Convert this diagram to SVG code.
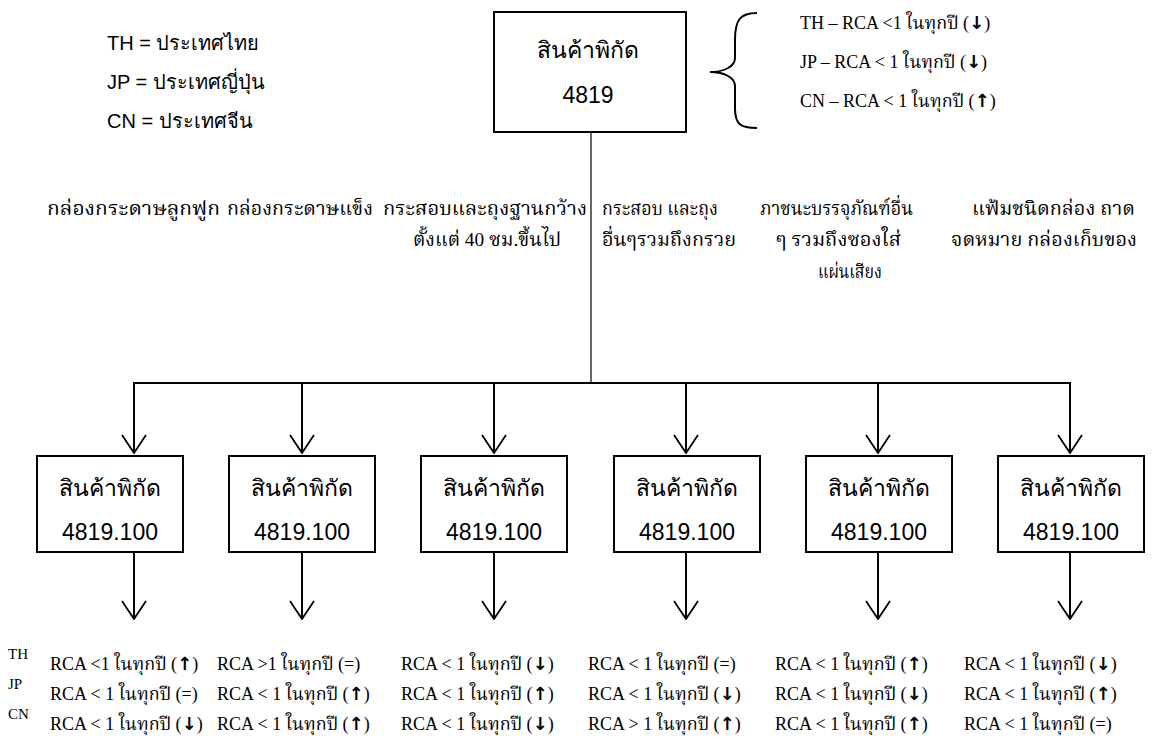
<svg xmlns="http://www.w3.org/2000/svg" width="1161" height="749" viewBox="0 0 1161 749">
<defs>
<style>
.bg{fill:#fff}
.box{fill:#fff;stroke:#000;stroke-width:2}
.sans{font-family:"Liberation Sans","Noto Sans","DejaVu Sans",sans-serif;fill:#000}
.serif{font-family:"Liberation Serif","Kinnari","Norasi","Noto Serif Thai","DejaVu Serif",serif;fill:#000}
.bt{font-size:23px;text-anchor:middle}
.lg{font-size:20px}
.cat{font-size:19px}
.rca{font-size:18px}
.sup{font-size:15px}
.ar{font-family:"DejaVu Sans",sans-serif;font-weight:bold}
.ln{fill:none;stroke:#000;stroke-width:2}
.thin{fill:none;stroke:#000;stroke-width:1.2}
</style>
<marker id="ah" viewBox="0 0 20 26" refX="19" refY="13" markerWidth="20" markerHeight="26" markerUnits="userSpaceOnUse" orient="auto">
<path d="M1,1 L19,13 L1,25" fill="none" stroke="#000" stroke-width="1.8"/>
</marker>
</defs>
<rect class="bg" x="0" y="0" width="1161" height="749"/>

<g id="legend">
<text class="sans lg" x="107" y="50">TH = ประเทศไทย</text>
<text class="sans lg" x="107" y="89">JP = ประเทศญี่ปุ่น</text>
<text class="sans lg" x="107" y="128">CN = ประเทศจีน</text>
</g>

<g id="top-node">
<rect class="box" x="494" y="12" width="192" height="120"/>
<text class="sans bt" x="588" y="58">สินค้าพิกัด</text>
<text class="sans bt" x="588" y="103">4819</text>
</g>

<g id="top-note">
<path class="ln" d="M757,13 C740,13 735,20 735,40 L735,58 C735,66 725,72 710,72 C725,72 735,78 735,86 L735,108 C735,124 740,128 757,128"/>
<text class="serif rca" x="800" y="29">TH – RCA &lt;1 ในทุกปี (<tspan class="ar">↓</tspan>)</text>
<text class="serif rca" x="800" y="68">JP – RCA &lt; 1 ในทุกปี (<tspan class="ar">↓</tspan>)</text>
<text class="serif rca" x="800" y="107">CN – RCA &lt; 1 ในทุกปี (<tspan class="ar">↑</tspan>)</text>
</g>

<g id="categories">
<text class="serif cat" x="47" y="215" textLength="173" lengthAdjust="spacingAndGlyphs">กล่องกระดาษลูกฟูก</text>
<text class="serif cat" x="227" y="215" textLength="146" lengthAdjust="spacingAndGlyphs">กล่องกระดาษแข็ง</text>
<text class="serif cat" x="383" y="215" textLength="204" lengthAdjust="spacingAndGlyphs">กระสอบและถุงฐานกว้าง</text>
<text class="serif cat" x="413" y="246" textLength="148" lengthAdjust="spacingAndGlyphs">ตั้งแต่ 40 ซม.ขึ้นไป</text>
<text class="serif cat" x="602" y="215" textLength="116" lengthAdjust="spacingAndGlyphs">กระสอบ และถุง</text>
<text class="serif cat" x="602" y="246" textLength="134" lengthAdjust="spacingAndGlyphs">อื่นๆรวมถึงกรวย</text>
<text class="serif cat" x="760" y="215" textLength="153" lengthAdjust="spacingAndGlyphs">ภาชนะบรรจุภัณฑ์อื่น</text>
<text class="serif cat" x="776" y="246" textLength="125" lengthAdjust="spacingAndGlyphs">ๆ รวมถึงซองใส่</text>
<text class="serif cat" x="818" y="278" textLength="64" lengthAdjust="spacingAndGlyphs">แผ่นเสียง</text>
<text class="serif cat" x="972" y="215" textLength="163" lengthAdjust="spacingAndGlyphs">แฟ้มชนิดกล่อง ถาด</text>
<text class="serif cat" x="951" y="246" textLength="186" lengthAdjust="spacingAndGlyphs">จดหมาย กล่องเก็บของ</text>
</g>

<g id="connectors">
<line class="thin" x1="591" y1="132" x2="591" y2="383"/>
<line class="ln" x1="133" y1="383" x2="1071" y2="383"/>
<line class="ln" x1="134" y1="383" x2="134" y2="453" marker-end="url(#ah)"/>
<line class="ln" x1="302" y1="383" x2="302" y2="453" marker-end="url(#ah)"/>
<line class="ln" x1="494" y1="383" x2="494" y2="453" marker-end="url(#ah)"/>
<line class="ln" x1="686" y1="383" x2="686" y2="453" marker-end="url(#ah)"/>
<line class="ln" x1="878" y1="383" x2="878" y2="453" marker-end="url(#ah)"/>
<line class="ln" x1="1070" y1="383" x2="1070" y2="453" marker-end="url(#ah)"/>
<line class="ln" x1="134" y1="552" x2="134" y2="619" marker-end="url(#ah)"/>
<line class="ln" x1="302" y1="552" x2="302" y2="619" marker-end="url(#ah)"/>
<line class="ln" x1="494" y1="552" x2="494" y2="619" marker-end="url(#ah)"/>
<line class="ln" x1="686" y1="552" x2="686" y2="619" marker-end="url(#ah)"/>
<line class="ln" x1="878" y1="552" x2="878" y2="619" marker-end="url(#ah)"/>
<line class="ln" x1="1070" y1="552" x2="1070" y2="619" marker-end="url(#ah)"/>
</g>

<g id="node-1">
<rect class="box" x="37" y="456" width="146" height="96"/>
<text class="sans bt" x="110" y="496">สินค้าพิกัด</text>
<text class="sans bt" x="110" y="540">4819.100</text>
</g>
<g id="node-2">
<rect class="box" x="229" y="456" width="146" height="96"/>
<text class="sans bt" x="302" y="496">สินค้าพิกัด</text>
<text class="sans bt" x="302" y="540">4819.100</text>
</g>
<g id="node-3">
<rect class="box" x="421" y="456" width="146" height="96"/>
<text class="sans bt" x="494" y="496">สินค้าพิกัด</text>
<text class="sans bt" x="494" y="540">4819.100</text>
</g>
<g id="node-4">
<rect class="box" x="614" y="456" width="146" height="96"/>
<text class="sans bt" x="687" y="496">สินค้าพิกัด</text>
<text class="sans bt" x="687" y="540">4819.100</text>
</g>
<g id="node-5">
<rect class="box" x="806" y="456" width="146" height="96"/>
<text class="sans bt" x="879" y="496">สินค้าพิกัด</text>
<text class="sans bt" x="879" y="540">4819.100</text>
</g>
<g id="node-6">
<rect class="box" x="998" y="456" width="146" height="96"/>
<text class="sans bt" x="1071" y="496">สินค้าพิกัด</text>
<text class="sans bt" x="1071" y="540">4819.100</text>
</g>

<g id="results">
<text class="serif sup" x="8" y="659">TH</text>
<text class="serif sup" x="8" y="689">JP</text>
<text class="serif sup" x="8" y="719">CN</text>
<text class="serif rca" x="50" y="670">RCA &lt;1 ในทุกปี (<tspan class="ar">↑</tspan>)</text>
<text class="serif rca" x="50" y="700">RCA &lt; 1 ในทุกปี (=)</text>
<text class="serif rca" x="50" y="730">RCA &lt; 1 ในทุกปี (<tspan class="ar">↓</tspan>)</text>
<text class="serif rca" x="217" y="670">RCA &gt;1 ในทุกปี (=)</text>
<text class="serif rca" x="217" y="700">RCA &lt; 1 ในทุกปี (<tspan class="ar">↑</tspan>)</text>
<text class="serif rca" x="217" y="730">RCA &lt; 1 ในทุกปี (<tspan class="ar">↑</tspan>)</text>
<text class="serif rca" x="401" y="670">RCA &lt; 1 ในทุกปี (<tspan class="ar">↓</tspan>)</text>
<text class="serif rca" x="401" y="700">RCA &lt; 1 ในทุกปี (<tspan class="ar">↑</tspan>)</text>
<text class="serif rca" x="401" y="730">RCA &lt; 1 ในทุกปี (<tspan class="ar">↓</tspan>)</text>
<text class="serif rca" x="588" y="670">RCA &lt; 1 ในทุกปี (=)</text>
<text class="serif rca" x="588" y="700">RCA &lt; 1 ในทุกปี (<tspan class="ar">↓</tspan>)</text>
<text class="serif rca" x="588" y="730">RCA &gt; 1 ในทุกปี (<tspan class="ar">↑</tspan>)</text>
<text class="serif rca" x="775" y="670">RCA &lt; 1 ในทุกปี (<tspan class="ar">↑</tspan>)</text>
<text class="serif rca" x="775" y="700">RCA &lt; 1 ในทุกปี (<tspan class="ar">↓</tspan>)</text>
<text class="serif rca" x="775" y="730">RCA &lt; 1 ในทุกปี (<tspan class="ar">↑</tspan>)</text>
<text class="serif rca" x="964" y="670">RCA &lt; 1 ในทุกปี (<tspan class="ar">↓</tspan>)</text>
<text class="serif rca" x="964" y="700">RCA &lt; 1 ในทุกปี (<tspan class="ar">↑</tspan>)</text>
<text class="serif rca" x="964" y="730">RCA &lt; 1 ในทุกปี (=)</text>
</g>
</svg>
